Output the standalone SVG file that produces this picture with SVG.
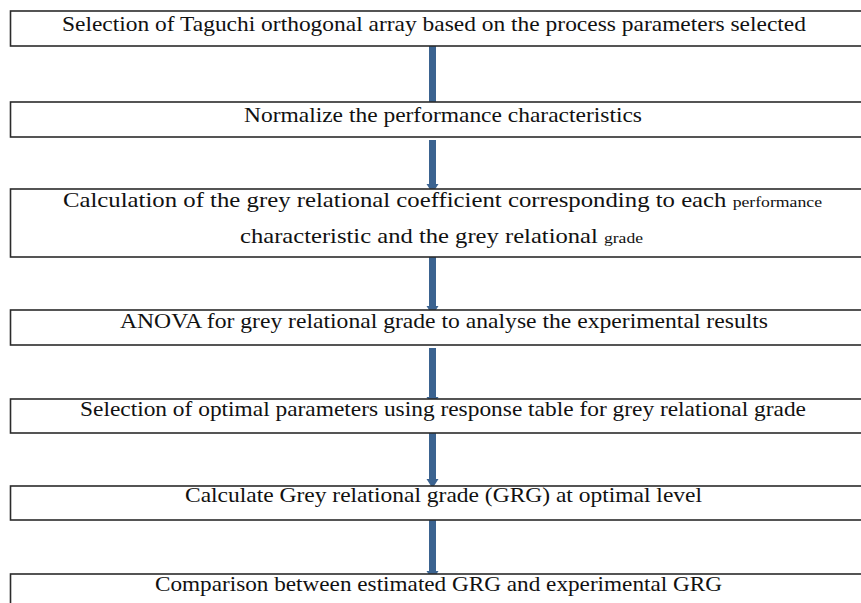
<svg xmlns="http://www.w3.org/2000/svg" width="861" height="603" viewBox="0 0 861 603">
<style>
.box{fill:#ffffff;stroke:#2b2b2b;stroke-width:1.6}
.t{font-family:"Liberation Serif","Times New Roman",serif;font-size:21px;fill:#111}
.s{font-size:15px}
.arr{fill:#3b6390}
</style>
<defs>
<path id="head" d="M-6,-7 L6,-7 L1.5,0 Q0,1.5 -1.5,0 Z"/>
</defs>
<rect width="861" height="603" fill="#ffffff"/>
<g id="connectors" class="arr">
<rect x="429" y="46" width="7" height="59"/><use href="#head" x="432.5" y="111"/>
<rect x="429" y="140" width="7" height="44"/><use href="#head" x="432.5" y="191"/>
<rect x="429" y="257" width="7" height="50"/><use href="#head" x="432.5" y="313"/>
<rect x="429" y="348" width="7" height="49"/><use href="#head" x="432.5" y="404"/>
<rect x="429" y="433" width="7" height="46"/><use href="#head" x="432.5" y="486"/>
<rect x="429" y="520" width="7" height="51"/><use href="#head" x="432.5" y="578"/>
</g>
<g id="n1"><rect class="box" x="10.5" y="11" width="860" height="35"/>
<text class="t" x="62" y="31" textLength="744" lengthAdjust="spacingAndGlyphs">Selection of Taguchi orthogonal array based on the process parameters selected</text></g>
<g id="n2"><rect class="box" x="10.5" y="102" width="860" height="35"/>
<text class="t" x="244" y="122" textLength="398" lengthAdjust="spacingAndGlyphs">Normalize the performance characteristics</text></g>
<g id="n3"><rect class="box" x="10.5" y="189" width="860" height="68"/>
<text class="t" x="63" y="207" textLength="759" lengthAdjust="spacingAndGlyphs">Calculation of the grey relational coefficient corresponding to each <tspan class="s">performance</tspan></text>
<text class="t" x="240" y="243" textLength="403" lengthAdjust="spacingAndGlyphs">characteristic and the grey relational <tspan class="s">grade</tspan></text></g>
<g id="n4"><rect class="box" x="10.5" y="310" width="860" height="35"/>
<text class="t" x="120" y="328" textLength="648" lengthAdjust="spacingAndGlyphs">ANOVA for grey relational grade to analyse the experimental results</text></g>
<g id="n5"><rect class="box" x="10.5" y="399" width="860" height="34"/>
<text class="t" x="80" y="416" textLength="726" lengthAdjust="spacingAndGlyphs">Selection of optimal parameters using response table for grey relational grade</text></g>
<g id="n6"><rect class="box" x="10.5" y="486" width="860" height="34"/>
<text class="t" x="185" y="502" textLength="517" lengthAdjust="spacingAndGlyphs">Calculate Grey relational grade (GRG) at optimal level</text></g>
<g id="n7"><rect class="box" x="10.5" y="574" width="860" height="40"/>
<text class="t" x="155" y="591" textLength="567" lengthAdjust="spacingAndGlyphs">Comparison between estimated GRG and experimental GRG</text></g>
</svg>
